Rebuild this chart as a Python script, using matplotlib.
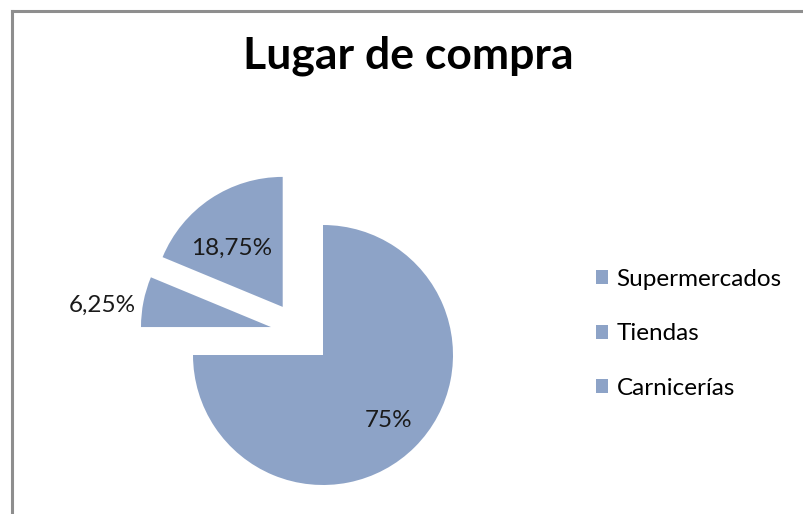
import numpy as np
import matplotlib
matplotlib.use('Agg')
import matplotlib.pyplot as plt
from matplotlib.lines import Line2D

# datos
categorias = ['Supermercados', 'Tiendas', 'Carnicerías']
valores = [75, 6.25, 18.75]
explode = [0, 0.43, 0.47]
dist_etiqueta = [0.71, 1.32, 0.62]
titulo = 'Lugar de compra'
color = '#8da3c7'

W, H = 804, 514
fig = plt.figure(figsize=(W / 100, H / 100), dpi=100)
ax = fig.add_axes([0, 0, 1, 1])

cx, cy, r = 323, H - 355, 130
# en matplotlib explode no se escala con radius
wedges, _ = ax.pie(valores, explode=[e * r for e in explode], startangle=90, counterclock=False,
                   colors=[color] * 3, radius=r, center=(cx, cy),
                   wedgeprops=dict(linewidth=0))
# en el original las porciones separadas no se mueven justo en la direccion radial
wedges[1].set_center((cx - 0.40 * r, cy + 0.215 * r))
wedges[2].set_center((cx - 0.31 * r, cy + 0.37 * r))

ax.set_xlim(0, W)
ax.set_ylim(0, H)
ax.set_aspect('equal')
ax.axis('off')

# etiquetas de porcentaje
ajuste = [(0, 0), (0, -12), (-6, -8)]
for w, v, d, (ax_, ay_) in zip(wedges, valores, dist_etiqueta, ajuste):
    mid = np.deg2rad((w.theta1 + w.theta2) / 2)
    x0, y0 = w.center
    txt = f'{v:g}%'.replace('.', ',')
    ax.text(x0 + d * r * np.cos(mid) + ax_, y0 + d * r * np.sin(mid) + ay_, txt,
            ha='center', va='center', fontsize=17.5, family='Lato', color='#1a1a1a')

fig.text(408 / W, 1 - 56 / H, titulo, ha='center', va='center',
         fontsize=32, fontweight='bold', family='Lato')

leg = fig.legend(wedges, categorias, loc='upper left', bbox_to_anchor=(574 / W, 1 - 247 / H),
                 frameon=False, handlelength=0.5, handleheight=0.5, handletextpad=0.35,
                 labelspacing=1.38, prop=dict(family='Lato', size=17.5))

# borde
gris = '#8e8e8e'
fig.add_artist(Line2D([12 / W, 1], [1 - 11 / H, 1 - 11 / H], color=gris, lw=2.2))
fig.add_artist(Line2D([12 / W, 12 / W], [0, 1 - 11 / H], color=gris, lw=2.2))

fig.savefig('out.png', dpi=100)
